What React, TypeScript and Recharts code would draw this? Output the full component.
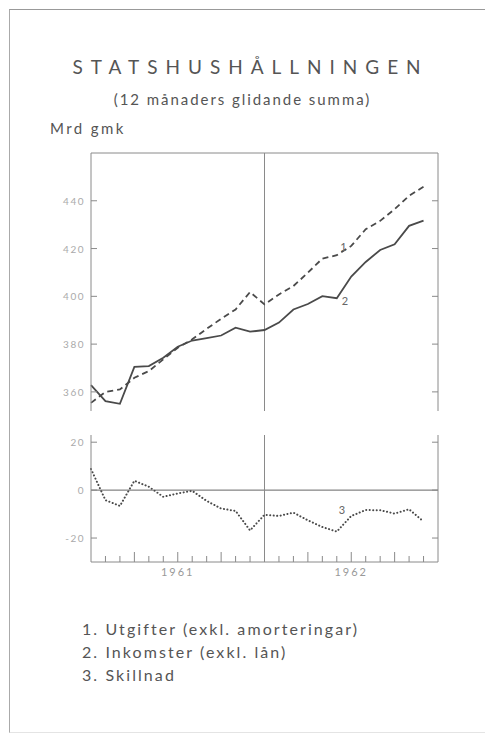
import { LineChart, Line, XAxis, YAxis, ReferenceLine } from "recharts";

// months, index 0 = first month of 1961, 24 = end of 1962
const months = [0, 1, 2, 3, 4, 5, 6, 7, 8, 9, 10, 11, 12, 13, 14, 15, 16, 17, 18, 19, 20, 21, 22, 23];
const utgifter = [355.4, 360, 361, 365.9, 368.7, 373.6, 378.5, 382, 386.4, 390.6, 394.5, 401.8, 396.6, 400.8, 404.3, 409.9, 415.8, 417.2, 421.1, 428.1, 431.6, 436.5, 442.1, 445.9];
const inkomster = [362.8, 356.1, 355, 370.5, 370.8, 374.3, 378.9, 381.5, 382.5, 383.6, 386.9, 385.2, 385.9, 389, 394.5, 396.8, 400.1, 399.2, 408.3, 414.4, 419.4, 421.8, 429.5, 431.7];
const skillnad = [8.8, -4.2, -6.6, 3.9, 1.4, -2.8, -1.4, -0.3, -4.5, -7.7, -8.7, -16.8, -10.3, -10.8, -9.4, -12.6, -15.4, -17.3, -10.8, -8.3, -8.4, -9.8, -8, -13.1];

const topTicks = [360, 380, 400, 420, 440];
const bottomTicks = [-20, 0, 20];
const monthTicks = [1, 2, 3, 4, 5, 6, 7, 8, 9, 10, 11, 13, 14, 15, 16, 17, 18, 19, 20, 21, 22, 23];
const yearLabels: Record<number, string> = { 6: "1961", 18: "1962" };
const legendItems = ["1. Utgifter (exkl. amorteringar)", "2. Inkomster (exkl. lån)", "3. Skillnad"];

const data = months.map((m, i) => ({ m, u: utgifter[i], i2: inkomster[i], s: skillnad[i] }));

const FONT = "Lato, 'Open Sans', sans-serif";
const FRAME = "#8a8a8a";
const INK = "#4a4a4a";

const LeftTick = (props: any) => {
    const { x, y, payload } = props;
    return (
        <g>
            <line x1={x} x2={x + 6} y1={y} y2={y} stroke={FRAME} />
            <text x={x - 6} y={y + 4} textAnchor="end" fontSize={10} fill="#aaa" letterSpacing={1.5} fontFamily={FONT}>
                {payload.value}
            </text>
        </g>
    );
};

const RightTick = (props: any) => {
    const { x, y } = props;
    return <line x1={x} x2={x - 6} y1={y} y2={y} stroke={FRAME} />;
};

const MonthTick = (props: any) => {
    const { x, y, payload } = props;
    const long = payload.value % 3 === 0;
    const label = yearLabels[payload.value];
    return (
        <g>
            <line x1={x} x2={x} y1={y} y2={y - (long ? 10 : 6)} stroke={FRAME} />
            {label && (
                <text x={x} y={y + 14} textAnchor="middle" fontSize={11} fill="#999" letterSpacing={2} fontFamily={FONT}>
                    {label}
                </text>
            )}
        </g>
    );
};

const App = () => {
    return (
        <div style={{ position: "absolute", left: 0, top: 0, width: 485, height: 733, background: "#fff", fontFamily: FONT, overflow: "hidden" }}>
            {/* page frame */}
            <div style={{ position: "absolute", left: 9, top: 9, width: 476, height: 722, borderTop: "1px solid #999", borderLeft: "1px solid #aaa", borderBottom: "1px solid #e4e4e4" }} />

            <div style={{ position: "absolute", top: 55, width: 485, textAlign: "center", fontSize: 19, letterSpacing: "0.42em", color: "#555", paddingLeft: 8 }}>
                STATSHUSHÅLLNINGEN
            </div>
            <div style={{ position: "absolute", top: 90, width: 485, textAlign: "center", fontSize: 15, letterSpacing: "0.13em", color: "#555" }}>
                (12 månaders glidande summa)
            </div>
            <div style={{ position: "absolute", top: 119, left: 50, fontSize: 15, letterSpacing: "0.16em", color: "#555" }}>
                Mrd gmk
            </div>

            {/* upper panel: utgifter och inkomster */}
            <div style={{ position: "absolute", left: 0, top: 0 }}>
                <LineChart width={485} height={411} data={data} margin={{ top: 153, right: 0, bottom: 0, left: 0 }}>
                    <XAxis dataKey="m" type="number" domain={[0, 24]} hide />
                    <YAxis yAxisId="l" domain={[352, 460]} ticks={topTicks} width={91} allowDataOverflow
                        axisLine={{ stroke: FRAME }} tickLine={false} tickSize={0} tickMargin={0} tick={<LeftTick />} />
                    <YAxis yAxisId="r" orientation="right" domain={[352, 460]} ticks={topTicks} width={47} allowDataOverflow
                        axisLine={{ stroke: FRAME }} tickLine={false} tickSize={0} tickMargin={0} tick={<RightTick />} />
                    <ReferenceLine yAxisId="l" y={460} stroke={FRAME} />
                    <ReferenceLine yAxisId="l" x={12} stroke={FRAME} />
                    <Line yAxisId="l" dataKey="u" type="linear" stroke={INK} strokeWidth={1.8} strokeDasharray="6 4" dot={false} isAnimationActive={false}
                        label={(p: any) => (p.index === 16 ? <text key="l1" x={p.x + 18} y={p.y - 8} fontSize={11} fill="#666" fontFamily={FONT}>1</text> : null)} />
                    <Line yAxisId="l" dataKey="i2" type="linear" stroke={INK} strokeWidth={1.8} dot={false} isAnimationActive={false}
                        label={(p: any) => (p.index === 17 ? <text key="l2" x={p.x + 5} y={p.y + 7} fontSize={11} fill="#666" fontFamily={FONT}>2</text> : null)} />
                </LineChart>
            </div>

            {/* lower panel: skillnad */}
            <div style={{ position: "absolute", left: 0, top: 425 }}>
                <LineChart width={485} height={162} data={data} margin={{ top: 10, right: 0, bottom: 0, left: 0 }}>
                    <XAxis dataKey="m" type="number" domain={[0, 24]} ticks={monthTicks} height={25} interval={0}
                        axisLine={{ stroke: FRAME }} tickLine={false} tickSize={0} tickMargin={0} tick={<MonthTick />} />
                    <YAxis yAxisId="l" domain={[-30, 23]} ticks={bottomTicks} width={91} allowDataOverflow
                        axisLine={{ stroke: FRAME }} tickLine={false} tickSize={0} tickMargin={0} tick={<LeftTick />} />
                    <YAxis yAxisId="r" orientation="right" domain={[-30, 23]} ticks={bottomTicks} width={47} allowDataOverflow
                        axisLine={{ stroke: FRAME }} tickLine={false} tickSize={0} tickMargin={0} tick={<RightTick />} />
                    <ReferenceLine yAxisId="l" y={0} stroke="#666" />
                    <ReferenceLine yAxisId="l" x={12} stroke={FRAME} />
                    <Line yAxisId="l" dataKey="s" type="linear" stroke={INK} strokeWidth={2} strokeDasharray="0.1 3.4" strokeLinecap="round" dot={false} isAnimationActive={false}
                        label={(p: any) => (p.index === 17 ? <text key="l3" x={p.x + 2} y={p.y - 18} fontSize={11} fill="#666" fontFamily={FONT}>3</text> : null)} />
                </LineChart>
            </div>

            <div style={{ position: "absolute", top: 617, left: 82, fontSize: 16, lineHeight: "23px", letterSpacing: "0.13em", color: "#555", whiteSpace: "pre" }}>
                {legendItems.map((t) => (
                    <div key={t}>{t}</div>
                ))}
            </div>
        </div>
    );
};

export default App;
